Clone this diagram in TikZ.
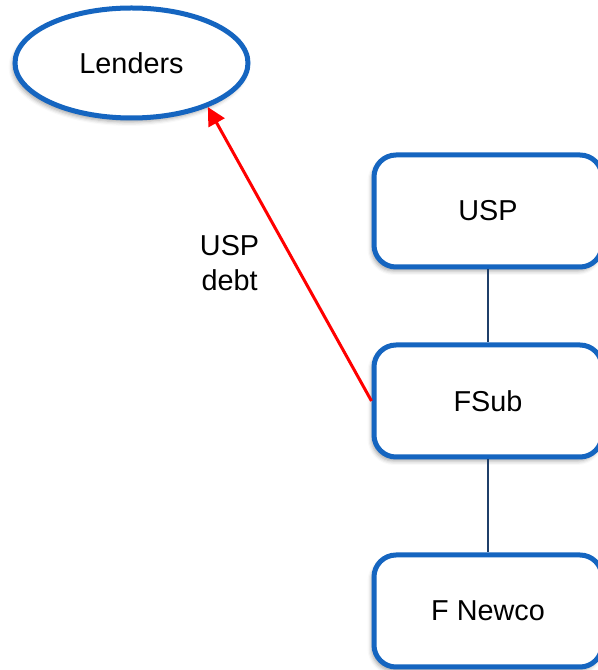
\documentclass[tikz,border=0pt]{standalone}
\usepackage{fontspec}
\setmainfont{Liberation Sans}
\usetikzlibrary{arrows.meta,shapes.geometric,positioning,shadows.blur}

\definecolor{boxblue}{RGB}{21,101,192}
\definecolor{linkblue}{RGB}{31,63,105}

\begin{document}
\begin{tikzpicture}[
    font=\fontsize{14.4}{17.5}\selectfont,
    entity/.style={rectangle,rounded corners=11pt,draw=boxblue,line width=2.5pt,fill=white,
        minimum width=114pt,minimum height=56pt,
        blur shadow={shadow xshift=-1.2pt,shadow yshift=-2pt,shadow blur radius=2pt,shadow opacity=35}},
    party/.style={ellipse,draw=boxblue,line width=2.5pt,fill=white,inner sep=0pt,
        minimum width=116.5pt,minimum height=55pt,
        blur shadow={shadow xshift=-1.2pt,shadow yshift=-2pt,shadow blur radius=2pt,shadow opacity=35}},
    link/.style={draw=linkblue,line width=0.6pt},
    loan/.style={draw=red,line width=1.5pt,-{Triangle[length=9pt,width=9pt]}}]
    \useasboundingbox (0,0) rectangle (299pt,335pt);

    % parties
    \node [party] (lenders) at (65.75pt,303.5pt) {Lenders};
    \node [entity] (usp) at (244pt,229.5pt) {USP};
    \node [entity,below=36.5pt of usp] (fsub) {FSub};
    \node [entity,below=46.5pt of fsub] (newco) {F Newco};

    % ownership
    \draw [link] (usp) -- (fsub);
    \draw [link] (fsub) -- (newco);

    % debt
    \draw [loan] (fsub.west) -- node [pos=0.47,xshift=-32.5pt,align=center] {USP\\debt} (lenders.-30);
\end{tikzpicture}
\end{document}
